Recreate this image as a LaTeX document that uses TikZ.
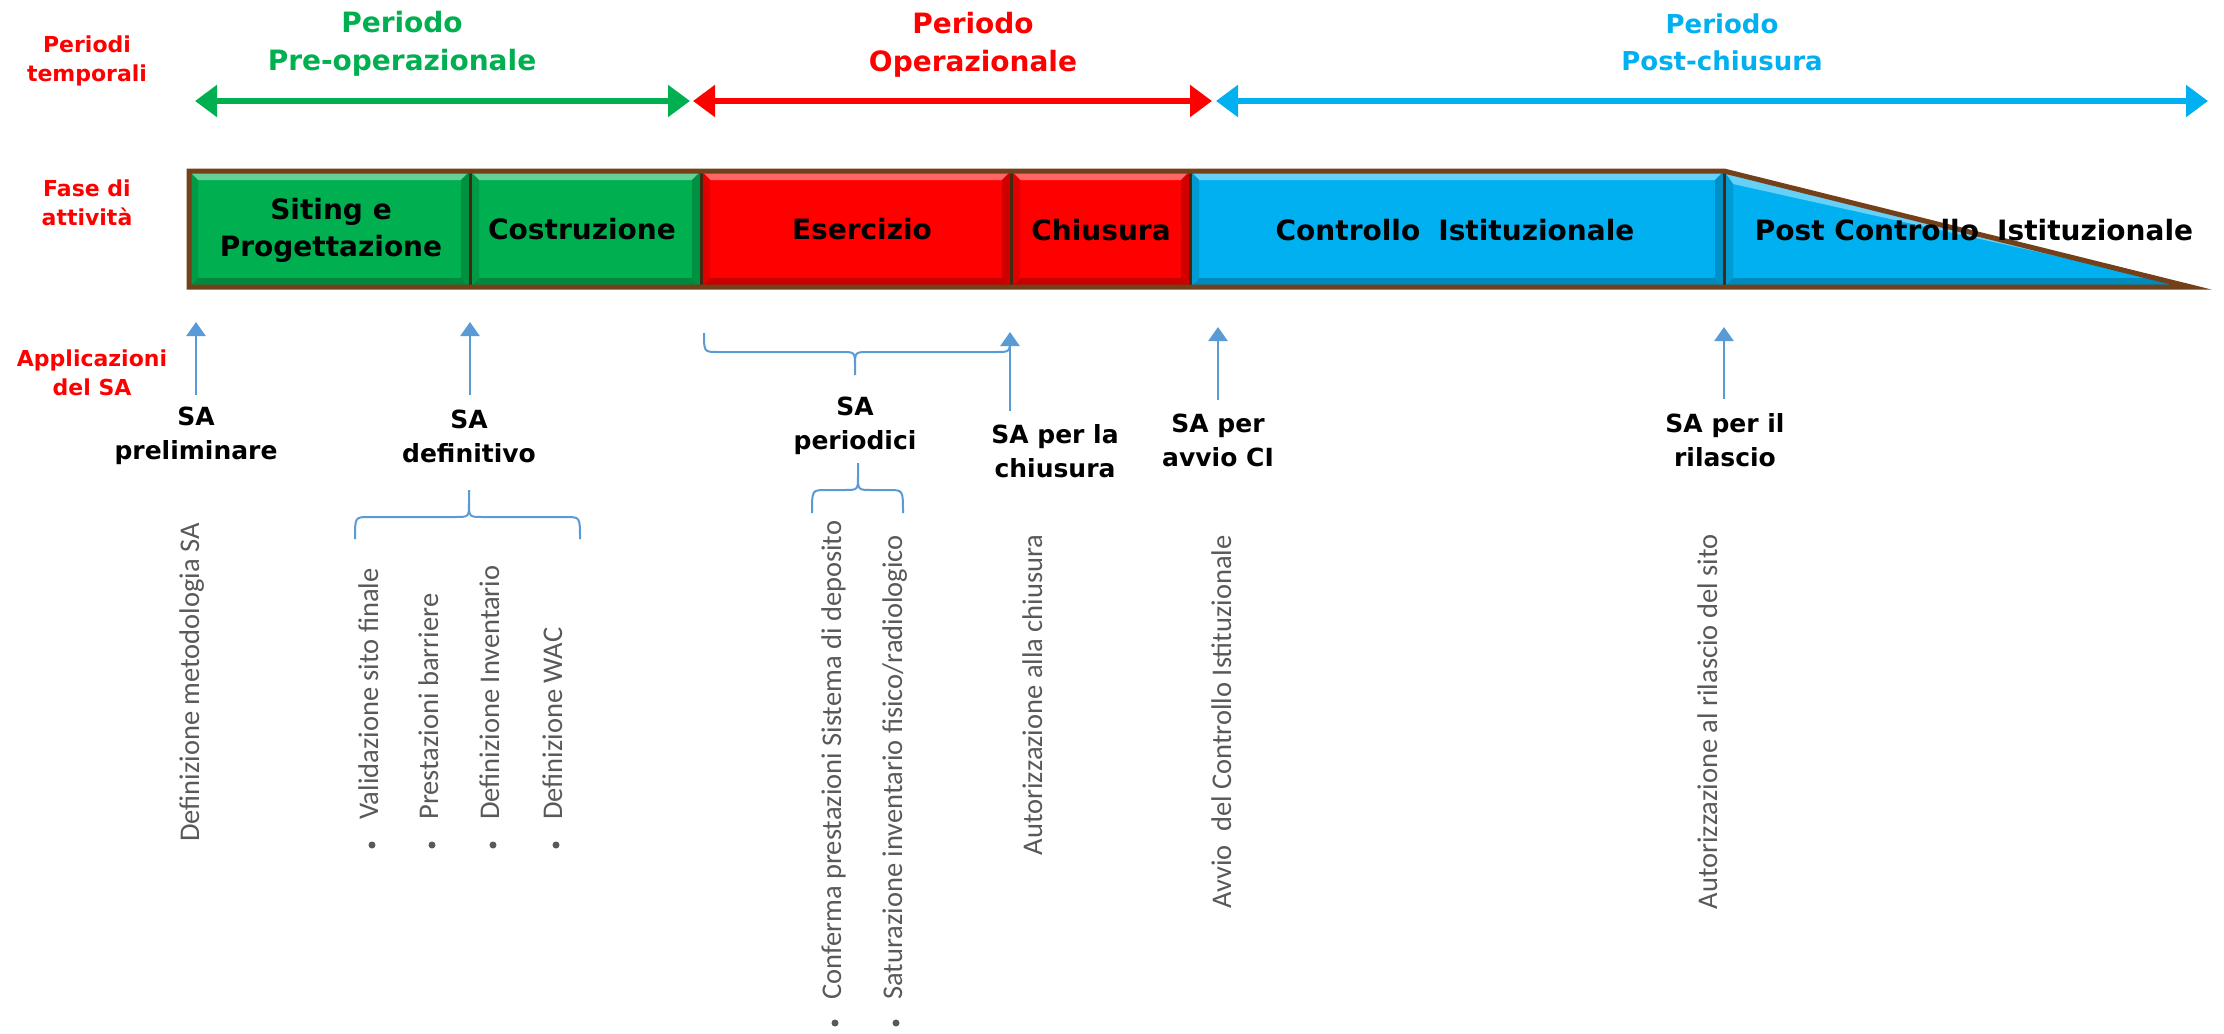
\documentclass[tikz,border=0pt]{standalone}
\usepackage{fontspec}
\setmainfont{DejaVu Sans}
\newfontfamily\carl{Carlito}
\usetikzlibrary{arrows.meta}
\definecolor{cgreen}{HTML}{00B050}
\definecolor{cred}{HTML}{FF0000}
\definecolor{cblue}{HTML}{00B0F0}
\definecolor{cbrown}{HTML}{744019}
\definecolor{cline}{HTML}{5B9BD5}
\definecolor{cgrey}{HTML}{595959}
\newcommand{\bevbox}[5]{%
  \fill[#5] (#1,#2) rectangle (#3,#4);
  \fill[#5!60!white] (#1,#2) -- (#3,#2) -- (#3-9,#2+9) -- (#1+9,#2+9) -- cycle;
  \fill[#5!78!black] (#1,#4) -- (#3,#4) -- (#3-9,#4-9) -- (#1+9,#4-9) -- cycle;
  \fill[#5!88!black] (#1,#2) -- (#1+9,#2+9) -- (#1+9,#4-9) -- (#1,#4) -- cycle;
  \fill[#5!82!black] (#3,#2) -- (#3-9,#2+9) -- (#3-9,#4-9) -- (#3,#4) -- cycle;
}
\tikzset{
  sidelbl/.style={font=\bfseries\fontsize{11}{14.25}\selectfont, text=cred, align=center, inner sep=0},
  ptitle/.style={font=\bfseries\fontsize{14}{19}\selectfont, align=center, inner sep=0},
  phasetxt/.style={font=\bfseries\fontsize{14}{18.5}\selectfont, align=center, inner sep=0},
  salbl/.style={font=\bfseries\fontsize{12.5}{17}\selectfont, align=center, inner sep=0},
  vtext/.style={font=\carl\fontsize{14.25}{17}\selectfont, text=cgrey, rotate=90, inner sep=0},
  periodarrow/.style={line width=2.75pt, {Triangle[length=11pt,width=15.5pt]}-{Triangle[length=11pt,width=15.5pt]}},
  uparrow/.style={cline, line width=1.25pt, -{Triangle[length=7pt,width=9.5pt]}},
  bracestyle/.style={cline, line width=1pt},
  bdot/.style={circle, fill=cgrey, inner sep=0, minimum size=3.5pt},
}
\begin{document}
\begin{tikzpicture}[x=0.5pt,y=-0.5pt]
\useasboundingbox (0,0) rectangle (2224,1034);
\fill[white] (0,0) rectangle (2224,1034);

% side labels
\node[sidelbl] (lper) at (87,61) {Periodi\\temporali};
\node[sidelbl] (lfase) at (87,203) {Fase di\\attività};
\node[sidelbl] (lappl) at (92,373) {Applicazioni\\del SA};

% period titles
\node[ptitle, text=cgreen] (tg) at (402,44) {Periodo\\Pre-operazionale};
\node[ptitle, text=cred] (tr) at (973,45) {Periodo\\Operazionale};
\node[ptitle, text=cblue, font=\bfseries\fontsize{13}{18.5}\selectfont] (tb) at (1722,42) {Periodo\\Post-chiusura};

% period arrows
\coordinate (g1) at (195,101); \coordinate (g2) at (690,101);
\coordinate (r1) at (693,101); \coordinate (r2) at (1212,101);
\coordinate (b1) at (1216,101); \coordinate (b2) at (2208,101);
\draw[periodarrow, cgreen] (g1) -- (g2);
\draw[periodarrow, cred] (r1) -- (r2);
\draw[periodarrow, cblue] (b1) -- (b2);

% phase bar
\bevbox{189}{171}{470}{287}{cgreen}
\bevbox{470}{171}{701}{287}{cgreen}
\bevbox{701}{171}{1011}{287}{cred}
\bevbox{1011}{171}{1190}{287}{cred}
\bevbox{1190}{171}{1724}{287}{cblue}
\fill[cblue] (1724,171) -- (2191,287) -- (1724,287) -- cycle;
\fill[cblue!60!white] (1724,171) -- (2191,287) -- (2155,278) -- (1733,184) -- cycle;
\fill[cblue!88!black] (1724,171) -- (1733,184) -- (1733,278) -- (1724,287) -- cycle;
\fill[cblue!78!black] (1724,287) -- (2191,287) -- (2155,278) -- (1733,278) -- cycle;
\foreach \xx in {470,701,1011,1190,1724}
  \draw[cbrown!60!black, line width=1.5pt] (\xx,171) -- (\xx,287);
\draw[cbrown, line width=2.5pt, line join=miter, miter limit=10]
  (189,171) -- (1724,171) -- (2191,287) -- (189,287) -- cycle;

\node[phasetxt] (siting) at (331,230) {Siting e\\Progettazione};
\node[phasetxt] (costr) at (582,229) {Costruzione};
\node[phasetxt] (eserc) at (862,229) {Esercizio};
\node[phasetxt] (chius) at (1101,230) {Chiusura};
\node[phasetxt] (ctrl) at (1455,230) {Controllo\hspace{0.3em} Istituzionale};
\node[phasetxt] (post) at (1974,230) {Post Controllo\hspace{0.3em} Istituzionale};

% SA labels
\node[salbl] (pre) at (196,436) {SA\\preliminare};
\node[salbl] (def) at (469,436) {SA\\definitivo};
\node[salbl] (per) at (855,426) {SA\\periodici};
\node[salbl] (chi) at (1055,451) {SA per la\\chiusura};
\node[salbl] (avv) at (1218,440) {SA per\\avvio CI};
\node[salbl] (ril) at (1725,440) {SA per il\\rilascio};

% up arrows
\coordinate (u1a) at (196,395); \coordinate (u1b) at (196,322);
\coordinate (u2a) at (470,395); \coordinate (u2b) at (470,322);
\coordinate (u3a) at (1010,411); \coordinate (u3b) at (1010,332);
\coordinate (u4a) at (1218,400); \coordinate (u4b) at (1218,327);
\coordinate (u5a) at (1724,399); \coordinate (u5b) at (1724,327);
\draw[uparrow] (u1a) -- (u1b);
\draw[uparrow] (u2a) -- (u2b);
\draw[uparrow] (u3a) -- (u3b);
\draw[uparrow] (u4a) -- (u4b);
\draw[uparrow] (u5a) -- (u5b);

% braces
\draw[bracestyle] (704,333) .. controls (704,352) .. (718,352) -- (841,352) .. controls (855,352) .. (855,366) -- (855,375);
\draw[bracestyle] (855,366) .. controls (855,352) .. (869,352) -- (996,352) .. controls (1010,352) .. (1010,338);
\draw[bracestyle] (355,539) .. controls (355,517) .. (369,517) -- (455,517) .. controls (469,517) .. (469,503) -- (469,490);
\draw[bracestyle] (469,503) .. controls (469,517) .. (483,517) -- (566,517) .. controls (580,517) .. (580,539);
\draw[bracestyle] (812,513) .. controls (812,490) .. (826,490) -- (844,490) .. controls (858,490) .. (858,476) -- (858,463);
\draw[bracestyle] (858,476) .. controls (858,490) .. (872,490) -- (889,490) .. controls (903,490) .. (903,513);

% rotated grey texts
\node[vtext, anchor=base west] (vdef) at (199,842) {Definizione metodologia SA};
\node[vtext, anchor=base west] (vval) at (378,820) {Validazione sito finale};
\node[vtext, anchor=base west] (vpre) at (438,820) {Prestazioni barriere};
\node[vtext, anchor=base west] (vinv) at (499,820) {Definizione Inventario};
\node[vtext, anchor=base west] (vwac) at (562,820) {Definizione WAC};
\node[bdot] (d1) at (372,845) {};
\node[bdot] (d2) at (432,845) {};
\node[bdot] (d3) at (493,845) {};
\node[bdot] (d4) at (556,845) {};
\node[vtext, anchor=base west] (vconf) at (841,1000) {Conferma prestazioni Sistema di deposito};
\node[vtext, anchor=base west] (vsat) at (902,1000) {Saturazione inventario fisico/radiologico};
\node[bdot] (d5) at (835,1023) {};
\node[bdot] (d6) at (896,1023) {};
\node[vtext, anchor=base east] (vaut) at (1042,534) {Autorizzazione alla chiusura};
\node[vtext, anchor=base east] (vavv) at (1231,535) {Avvio\hspace{0.25em} del Controllo Istituzionale};
\node[vtext, anchor=base east] (vril) at (1717,534) {Autorizzazione al rilascio del sito};
\end{tikzpicture}
\end{document}
